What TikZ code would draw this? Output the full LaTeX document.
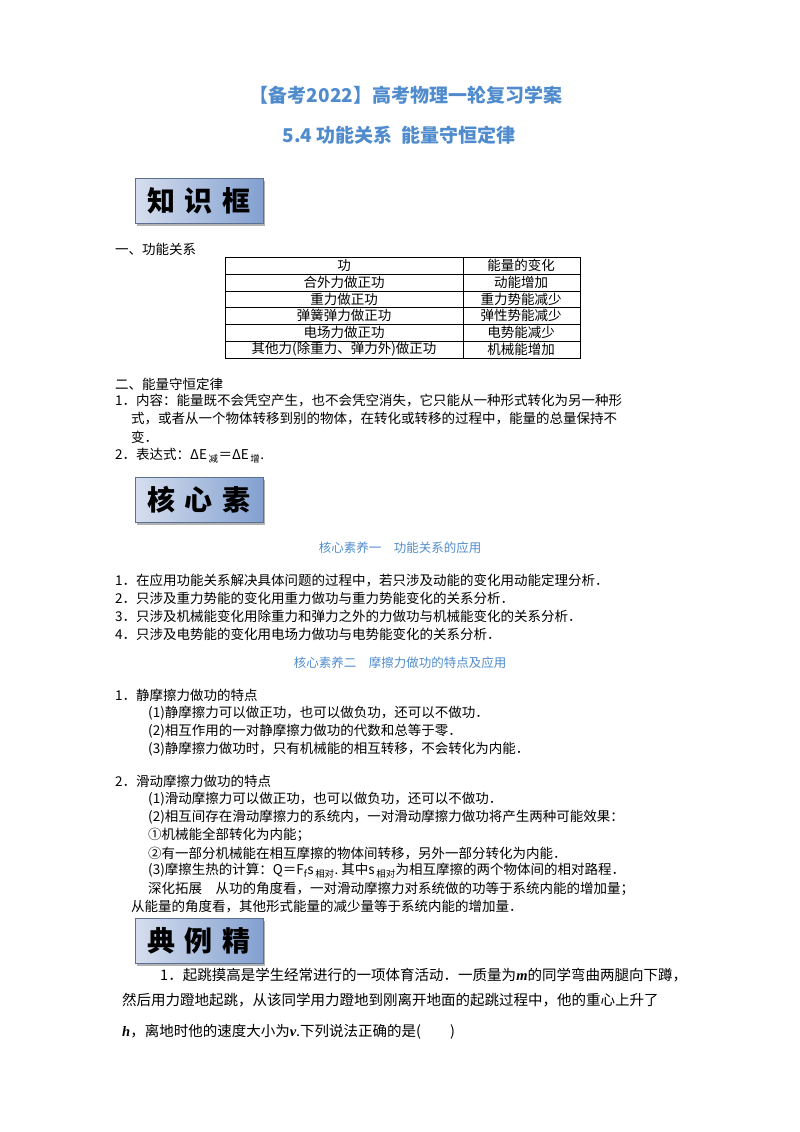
\documentclass[tikz,border=0pt]{standalone}
\usepackage{fontspec}
\setmainfont{Noto Sans CJK SC}
\newfontfamily\lser{Liberation Serif}
\newcommand{\vi}[1]{{\lser\bfseries\itshape #1}}
\usetikzlibrary{shadows}
\definecolor{ttl}{RGB}{80,140,205}
\definecolor{bxa}{RGB}{214,222,238}
\definecolor{bxb}{RGB}{130,160,208}
\begin{document}
\begin{tikzpicture}[x=1pt,y=-1pt,
  t/.style={anchor=west,inner sep=0pt,font=\fontsize{13.5}{14}\selectfont},
  c/.style={inner sep=0pt,font=\fontsize{13.5}{14}\selectfont},
  hd/.style={inner sep=0pt,font=\fontsize{19}{20}\selectfont\bfseries,text=ttl},
  sub/.style={inner sep=0pt,font=\fontsize{12.5}{13}\selectfont,text=ttl},
  bx/.style={draw=bxb!70!black,line width=0.6pt,minimum width=128pt,minimum height=45pt,
    left color=bxa,right color=bxb,drop shadow={shadow xshift=2pt,shadow yshift=-2pt,fill=black!60},
    font=\fontsize{28}{30}\selectfont\bfseries}]
\useasboundingbox (0,0) rectangle (800,1132);
\node[hd] (h1) at (406,95) {【备考2022】高考物理一轮复习学案};
\node[hd] (h2) at (399,135) {5.4 功能关系\ \ 能量守恒定律};
\node[bx] (b1) at (199,201) {知\,\,识\,\,框};
\node[t] (s1) at (115,249) {一、功能关系};
% table
\draw[line width=0.6pt] (225,257) rectangle (580,358);
\foreach \y in {274,291,307,324,341} \draw[line width=0.5pt] (225,\y) -- (580,\y);
\draw[line width=0.5pt] (463,257) -- (463,358);
\foreach \a/\b/\y in {功/能量的变化/265.5,合外力做正功/动能增加/282.5,重力做正功/重力势能减少/299,弹簧弹力做正功/弹性势能减少/315.5,电场力做正功/电势能减少/332.5,其他力(除重力、弹力外)做正功/机械能增加/349.5}{
  \node[c] at (344,\y) {\a}; \node[c] at (521,\y) {\b};}
\node[t] (s2) at (115,384) {二、能量守恒定律};
\node[t] (p1) at (115,401) {1．内容：能量既不会凭空产生，也不会凭空消失，它只能从一种形式转化为另一种形};
\node[t] (p2) at (131,419) {式，或者从一个物体转移到别的物体，在转化或转移的过程中，能量的总量保持不};
\node[t] (p3) at (131,437) {变．};
\node[t] (p4) at (115,456) {2．表达式：ΔE\textsubscript{\,减}＝ΔE\textsubscript{\,增}.};
\node[bx] (b2) at (199,500) {核\,\,心\,\,素};
\node[sub] (k1) at (400,548) {核心素养一\quad 功能关系的应用};
\node[t] at (115,580) {1．在应用功能关系解决具体问题的过程中，若只涉及动能的变化用动能定理分析．};
\node[t] at (115,598) {2．只涉及重力势能的变化用重力做功与重力势能变化的关系分析．};
\node[t] at (115,616) {3．只涉及机械能变化用除重力和弹力之外的力做功与机械能变化的关系分析．};
\node[t] at (115,634) {4．只涉及电势能的变化用电场力做功与电势能变化的关系分析．};
\node[sub] (k2) at (400,663) {核心素养二\quad 摩擦力做功的特点及应用};
\node[t] at (115,695) {1．静摩擦力做功的特点};
\node[t] at (148,713) {(1)静摩擦力可以做正功，也可以做负功，还可以不做功．};
\node[t] at (148,731) {(2)相互作用的一对静摩擦力做功的代数和总等于零．};
\node[t] at (148,749) {(3)静摩擦力做功时，只有机械能的相互转移，不会转化为内能．};
\node[t] at (115,781) {2．滑动摩擦力做功的特点};
\node[t] at (148,799) {(1)滑动摩擦力可以做正功，也可以做负功，还可以不做功．};
\node[t] at (148,817) {(2)相互间存在滑动摩擦力的系统内，一对滑动摩擦力做功将产生两种可能效果：};
\node[t] at (148,835) {①机械能全部转化为内能；};
\node[t] at (148,853) {②有一部分机械能在相互摩擦的物体间转移，另外一部分转化为内能．};
\node[t] at (148,871) {(3)摩擦生热的计算：Q＝F\textsubscript{f}s\textsubscript{\,相对}.\ 其中s\textsubscript{\,相对}为相互摩擦的两个物体间的相对路程．};
\node[t] at (148,889) {深化拓展\quad 从功的角度看，一对滑动摩擦力对系统做的功等于系统内能的增加量；};
\node[t] at (131,907) {从能量的角度看，其他形式能量的减少量等于系统内能的增加量．};
\node[bx] (b3) at (199,941) {典\,\,例\,\,精};
\node[t,font=\fontsize{14.5}{15}\selectfont] at (160,975) {1．起跳摸高是学生经常进行的一项体育活动．一质量为\vi{m}的同学弯曲两腿向下蹲，};
\node[t,font=\fontsize{14.5}{15}\selectfont] at (122,1000) {然后用力蹬地起跳，从该同学用力蹬地到刚离开地面的起跳过程中，他的重心上升了};
\node[t,font=\fontsize{14.5}{15}\selectfont] at (122,1032) {\vi{h}，离地时他的速度大小为\vi{v}.下列说法正确的是(\qquad)};
\end{tikzpicture}
\end{document}
